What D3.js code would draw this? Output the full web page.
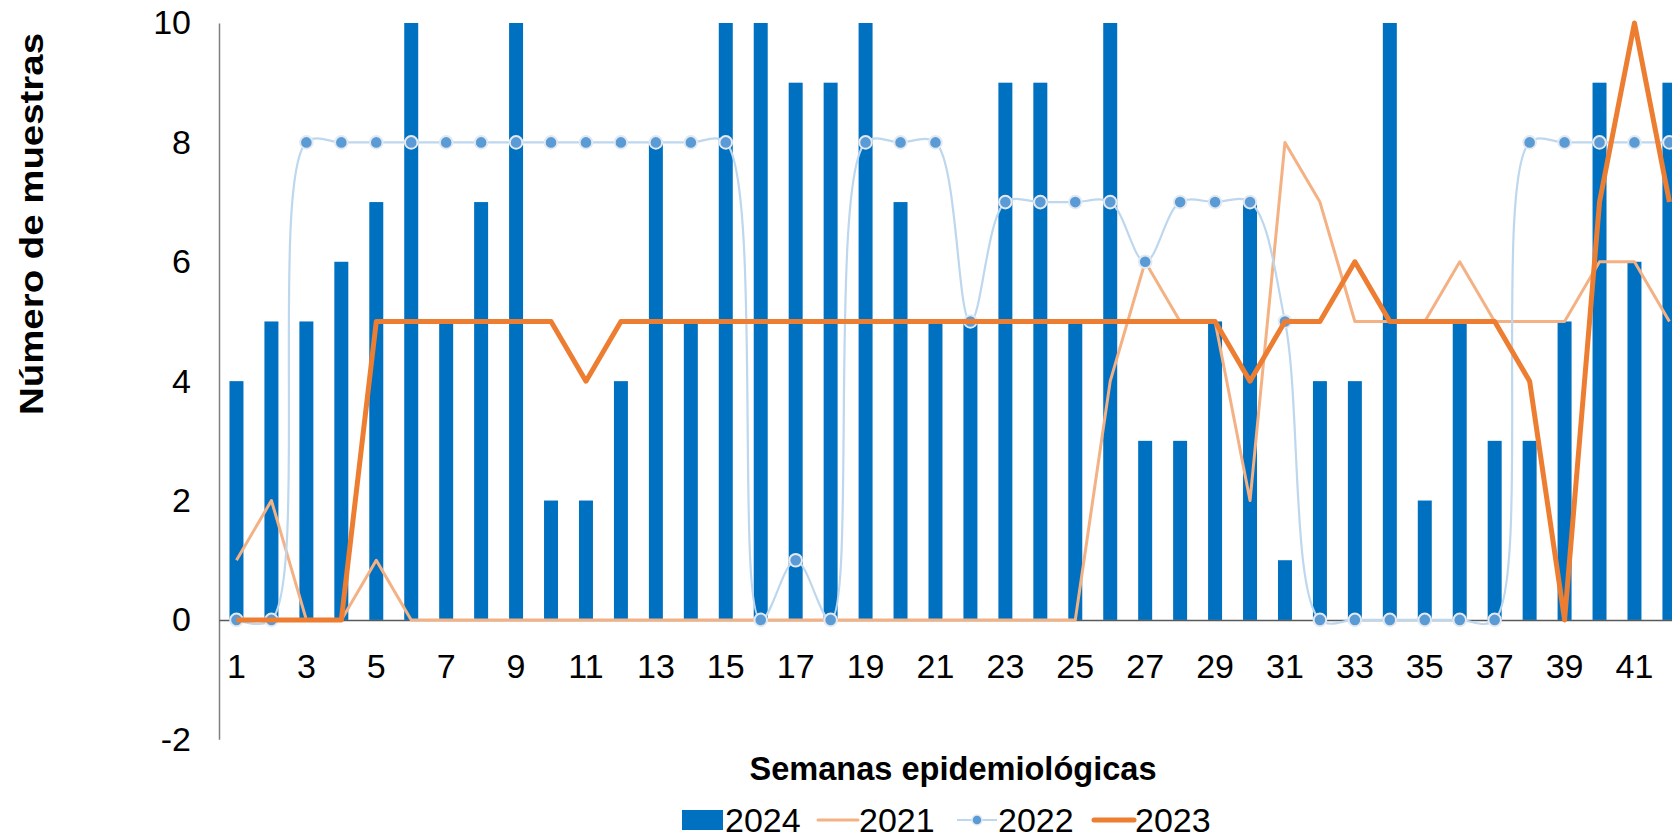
<!DOCTYPE html>
<html>
<head>
<meta charset="utf-8">
<script src="https://cdn.jsdelivr.net/npm/d3@7"></script>
<style>
body { margin: 0; background: #fff; }
text { font-family: "Liberation Sans", Arial, sans-serif; fill: #000; }
</style>
</head>
<body>
<svg id="chart" width="1672" height="837"></svg>
<script>
// semanas visibles (el grafico original se corta a la derecha)
const weeks = [1,2,3,4,5,6,7,8,9,10,11,12,13,14,15,16,17,18,19,20,21,
  22,23,24,25,26,27,28,29,30,31,32,33,34,35,36,37,38,39,40,41,42]
const v2024 = [4,5,5,6,7,10,5,7,10,2,2,4,8,5,10,10,9,9,10,7,5,
  5,9,9,5,10,3,3,5,7,1,4,4,10,2,5,3,3,5,9,6,9]
const v2021 = [1,2,0,0,1,0,0,0,0,0,0,0,0,0,0,0,0,0,0,0,0,
  0,0,0,0,4,6,5,5,2,8,7,5,5,5,6,5,5,5,6,6,5]
const v2022 = [0,0,8,8,8,8,8,8,8,8,8,8,8,8,8,0,1,0,8,8,8,
  5,7,7,7,7,6,7,7,7,5,0,0,0,0,0,0,8,8,8,8,8]
const v2023 = [0,0,0,0,5,5,5,5,5,5,4,5,5,5,5,5,5,5,5,5,5,
  5,5,5,5,5,5,5,5,4,5,5,6,5,5,5,5,4,0,7,10,7]
const yTicks = [-2,0,2,4,6,8,10]
const xTicks = [1,3,5,7,9,11,13,15,17,19,21,23,25,27,29,31,33,35,37,39,41]
const legendNames = ["2024","2021","2022","2023"]

const svg = d3.select("#chart")
const step = 34.95
const left = 219

var x = d3.scaleBand().domain(weeks).range([left, left + weeks.length * step]).paddingInner(0.6).paddingOuter(0.3)
var y = d3.scaleLinear().domain([-2, 10]).range([739.3, 23])

// eje y
var yAxis = svg.append("g").attr("transform", "translate(" + left + ",0)")
  .call(d3.axisLeft(y).tickValues(yTicks).tickSize(0).tickPadding(28).tickFormat(d => String(d)))
yAxis.select(".domain").attr("stroke", "#7f7f7f").attr("stroke-width", 1.5)
yAxis.selectAll("text").style("font-size", "34px").style("font-family", "Liberation Sans, Arial, sans-serif")

// barras 2024
svg.append("g").selectAll("rect").data(weeks).join("rect")
  .attr("x", d => x(d))
  .attr("y", (d, i) => y(v2024[i]))
  .attr("width", x.bandwidth())
  .attr("height", (d, i) => y(0) - y(v2024[i]))
  .attr("fill", "#0070C0")

// eje x en el cero
var xAxis = svg.append("g").attr("transform", "translate(0," + y(0) + ")")
  .call(d3.axisBottom(x).tickValues(xTicks).tickSize(0).tickPadding(34))
xAxis.select(".domain").attr("stroke", "#595959").attr("stroke-width", 1.5)
xAxis.selectAll("text").style("font-size", "34px").style("font-family", "Liberation Sans, Arial, sans-serif")

var cx = d => x(d) + x.bandwidth() / 2

var line = d3.line().x(d => cx(d[0])).y(d => y(d[1]))
var smooth = d3.line().x(d => cx(d[0])).y(d => y(d[1])).curve(d3.curveCatmullRom.alpha(0.5))

svg.append("path").datum(weeks.map((w, i) => [w, v2021[i]]))
  .attr("d", line).attr("fill", "none").attr("stroke", "#F4B183")
  .attr("stroke-width", 3).attr("stroke-linejoin", "round")

svg.append("path").datum(weeks.map((w, i) => [w, v2022[i]]))
  .attr("d", smooth).attr("fill", "none").attr("stroke", "#BDD7EE")
  .attr("stroke-width", 2.2)

svg.append("g").selectAll("circle").data(weeks).join("circle")
  .attr("cx", d => cx(d))
  .attr("cy", (d, i) => y(v2022[i]))
  .attr("r", 6.3)
  .attr("fill", "#5B9BD5")
  .attr("stroke", "#e3e9f0")
  .attr("stroke-width", 2)

svg.append("path").datum(weeks.map((w, i) => [w, v2023[i]]))
  .attr("d", line).attr("fill", "none").attr("stroke", "#ED7D31")
  .attr("stroke-width", 5).attr("stroke-linejoin", "round")

// titulos
svg.append("text")
  .attr("transform", "translate(43,224) rotate(-90)")
  .attr("text-anchor", "middle")
  .attr("textLength", 382).attr("lengthAdjust", "spacingAndGlyphs")
  .style("font-size", "34px").style("font-weight", "bold")
  .text("Número de muestras")

svg.append("text")
  .attr("x", 953).attr("y", 780)
  .attr("text-anchor", "middle")
  .attr("textLength", 407).attr("lengthAdjust", "spacingAndGlyphs")
  .style("font-size", "34px").style("font-weight", "bold")
  .text("Semanas epidemiológicas")

// leyenda
var legX = [682, 816, 955, 1092]
var legY = 820
var leg = svg.append("g")
legendNames.forEach(function(name, i) {
  var g = leg.append("g").attr("transform", "translate(" + legX[i] + "," + legY + ")")
  if (i == 0) {
    g.append("rect").attr("x", 0).attr("y", -10).attr("width", 41).attr("height", 20).attr("fill", "#0070C0")
  } else if (i == 1) {
    g.append("line").attr("x1", 2).attr("x2", 42).attr("stroke", "#F4B183").attr("stroke-width", 3).attr("stroke-linecap", "round")
  } else if (i == 2) {
    g.append("line").attr("x1", 2).attr("x2", 42).attr("stroke", "#BDD7EE").attr("stroke-width", 2.2)
    g.append("circle").attr("cx", 22).attr("r", 5).attr("fill", "#5B9BD5").attr("stroke", "#e3e9f0").attr("stroke-width", 1.5)
  } else {
    g.append("line").attr("x1", 2).attr("x2", 42).attr("stroke", "#ED7D31").attr("stroke-width", 5).attr("stroke-linecap", "round")
  }
  g.append("text").attr("x", 43).attr("y", 11.5).style("font-size", "34px").text(name)
})
</script>
</body>
</html>
